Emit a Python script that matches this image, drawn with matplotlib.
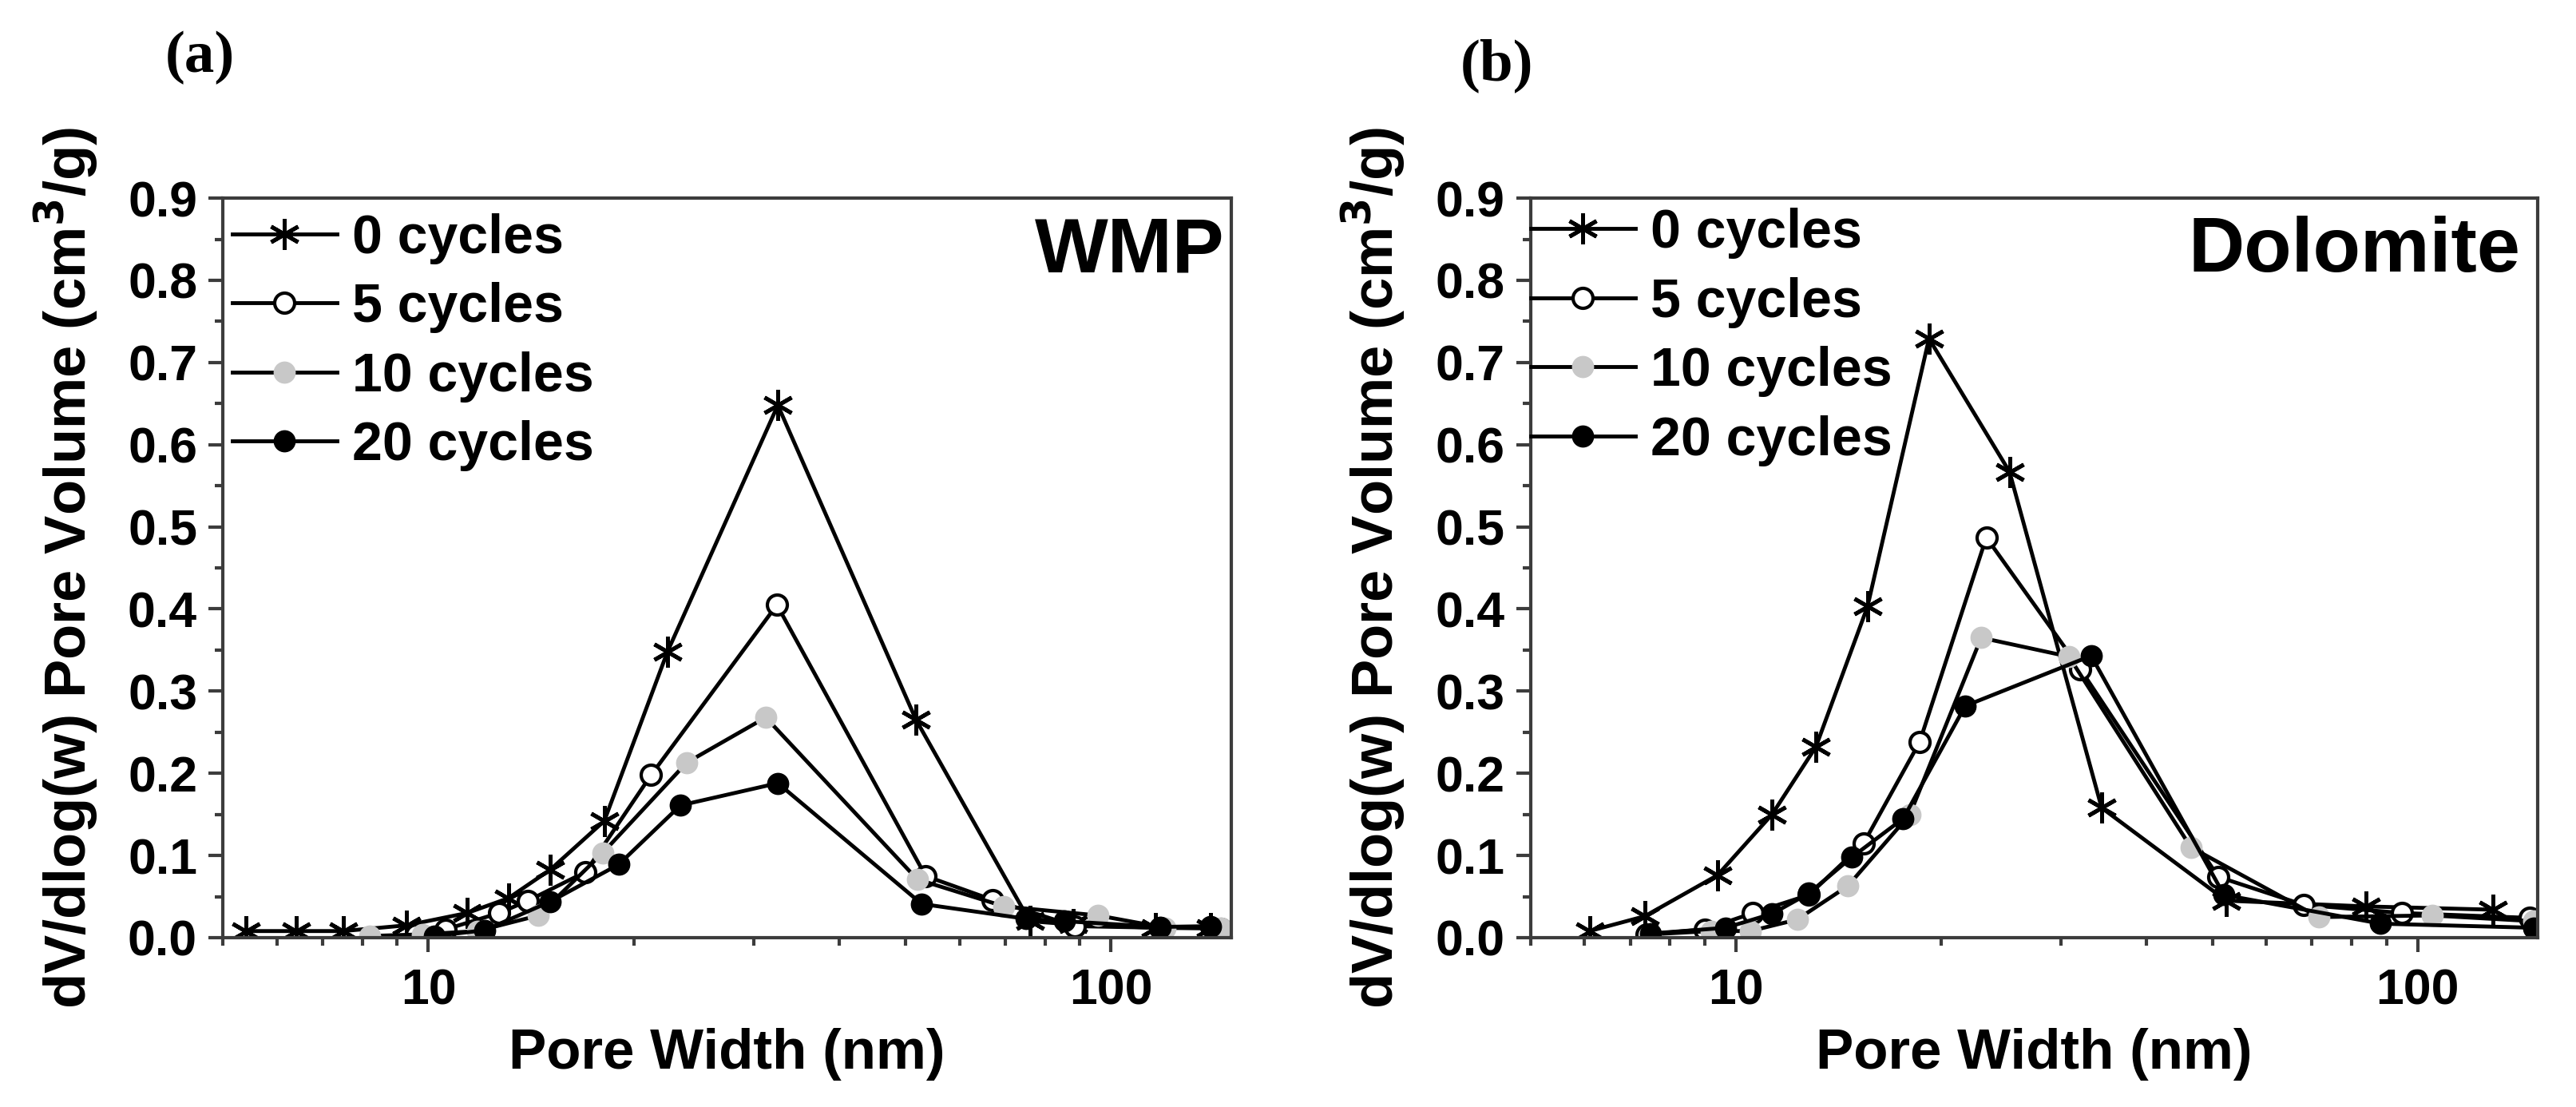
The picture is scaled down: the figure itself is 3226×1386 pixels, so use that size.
import numpy as np
import matplotlib
matplotlib.use('Agg')
import matplotlib.pyplot as plt
from matplotlib.ticker import MultipleLocator, FormatStrFormatter, LogLocator, NullFormatter

plt.rcParams['font.family'] = ['Liberation Sans', 'DejaVu Sans']
plt.rcParams['font.weight'] = 'bold'

labels = ['0 cycles', '5 cycles', '10 cycles', '20 cycles']

# WMP (panel a) - pore width (nm) / dV/dlog(w) (cm3/g)
wmp_x0 = [5.4, 6.4, 7.5, 9.3, 11.4, 13.1, 15.1, 18.1, 22.4, 32.5, 51.8, 76.0, 88.0, 116.0, 140.0]
wmp_y0 = [0.008, 0.008, 0.008, 0.015, 0.030, 0.048, 0.083, 0.142, 0.348, 0.648, 0.265, 0.020, 0.016, 0.012, 0.012]
wmp_x5 = [9.6, 10.6, 12.7, 14.0, 17.0, 21.2, 32.4, 53.5, 67.0, 88.5, 118.0, 145.0]
wmp_y5 = [0.004, 0.010, 0.030, 0.045, 0.080, 0.198, 0.405, 0.075, 0.046, 0.014, 0.012, 0.011]
wmp_x10 = [8.2, 9.8, 11.8, 14.5, 18.0, 23.9, 31.2, 52.0, 69.7, 95.7, 120.0, 145.0]
wmp_y10 = [0.002, 0.004, 0.008, 0.027, 0.103, 0.213, 0.268, 0.071, 0.038, 0.027, 0.012, 0.012]
wmp_x20 = [10.2, 12.1, 15.1, 19.0, 23.4, 32.5, 52.8, 75.0, 85.5, 118.0, 140.0]
wmp_y20 = [0.002, 0.009, 0.044, 0.089, 0.161, 0.188, 0.041, 0.023, 0.020, 0.013, 0.014]

# Dolomite (panel b)
dol_x0 = [6.1, 7.35, 9.4, 11.3, 13.1, 15.6, 19.2, 25.2, 34.4, 52.4, 84.0, 129.0]
dol_y0 = [0.008, 0.026, 0.076, 0.150, 0.232, 0.403, 0.729, 0.567, 0.158, 0.045, 0.038, 0.034]
dol_x5 = [7.4, 9.0, 10.6, 12.8, 15.4, 18.6, 23.3, 32.0, 51.0, 68.0, 94.8, 146.0]
dol_y5 = [0.004, 0.010, 0.030, 0.052, 0.115, 0.238, 0.487, 0.327, 0.074, 0.040, 0.030, 0.024]
dol_x10 = [7.5, 9.2, 10.5, 12.3, 14.6, 18.0, 22.9, 30.8, 46.5, 71.6, 105.0, 148.0]
dol_y10 = [0.004, 0.008, 0.008, 0.022, 0.063, 0.150, 0.365, 0.342, 0.110, 0.025, 0.027, 0.020]
dol_x20 = [7.5, 9.66, 11.3, 12.8, 14.8, 17.6, 21.7, 33.2, 52.0, 88.3, 148.0]
dol_y20 = [0.005, 0.012, 0.029, 0.054, 0.098, 0.145, 0.282, 0.343, 0.052, 0.017, 0.012]

styles = [
    dict(marker=(6, 2, 0), ms=28, mfc='black', mec='black', mew=3.5),
    dict(marker='o', ms=18, mfc='white', mec='black', mew=3),
    dict(marker='o', ms=18, mfc='#c8c8c8', mec='#c8c8c8', mew=2),
    dict(marker='o', ms=18, mfc='black', mec='black', mew=2),
]

fig = plt.figure(figsize=(32.26, 13.86), dpi=100)
ax1 = fig.add_axes([0.0865, 0.153, 0.3915, 0.668])
ax2 = fig.add_axes([0.5942, 0.153, 0.3909, 0.668])


def draw_panel(ax, xs, ys, name, name_x, leg_x, leg_y):
    for x, y, lab, st in zip(xs, ys, labels, styles):
        ax.plot(x, y, color='black', lw=3.5, label=lab, **st)
    ax.set_xscale('log')
    ax.set_xlim(5, 150)
    ax.set_ylim(0, 0.9)
    ax.set_yticks(np.arange(0, 0.95, 0.1))
    ax.yaxis.set_minor_locator(MultipleLocator(0.05))
    ax.yaxis.set_major_formatter(FormatStrFormatter('%.1f'))
    ax.set_xticks([10, 100])
    ax.set_xticklabels(['10', '100'])
    ax.xaxis.set_minor_locator(LogLocator(base=10, subs=range(2, 10)))
    ax.xaxis.set_minor_formatter(NullFormatter())
    ax.tick_params(which='major', length=13, width=3, direction='out',
                   labelsize=45, color='#3c3c3c')
    ax.tick_params(which='minor', length=7, width=3, direction='out', color='#3c3c3c')
    ax.tick_params(axis='x', pad=14)
    ax.tick_params(axis='y', pad=10)
    for sp in ax.spines.values():
        sp.set_linewidth(3)
        sp.set_color('#3c3c3c')
    ax.set_xlabel('Pore Width (nm)', fontsize=51, fontweight='bold', labelpad=12)
    ax.set_ylabel('dV/dlog(w) Pore Volume (cm$^\\mathbf{3}$/g)', fontsize=52,
                  fontweight='bold', labelpad=24)
    ax.text(name_x, 0.9006, name, transform=ax.transAxes, fontsize=70,
            fontweight='bold', ha='right', va='baseline')
    ax.legend(loc='upper left', bbox_to_anchor=(leg_x, leg_y), frameon=False,
              prop={'size': 49, 'weight': 'bold'}, handlelength=1.92,
              handletextpad=0.28, labelspacing=0.33, borderpad=0, borderaxespad=0)


draw_panel(ax1, [wmp_x0, wmp_x5, wmp_x10, wmp_x20],
           [wmp_y0, wmp_y5, wmp_y10, wmp_y20], 'WMP', 0.993, 0.0095, 0.98)
draw_panel(ax2, [dol_x0, dol_x5, dol_x10, dol_x20],
           [dol_y0, dol_y5, dol_y10, dol_y20], 'Dolomite', 0.983, 0.0, 0.987)

fig.text(0.0775, 0.948, '(a)', family=['Liberation Serif', 'DejaVu Serif'],
         fontsize=54, fontweight='bold', ha='center', va='center')
fig.text(0.581, 0.941, '(b)', family=['Liberation Serif', 'DejaVu Serif'],
         fontsize=54, fontweight='bold', ha='center', va='center')

fig.savefig('out.png', dpi=100)
